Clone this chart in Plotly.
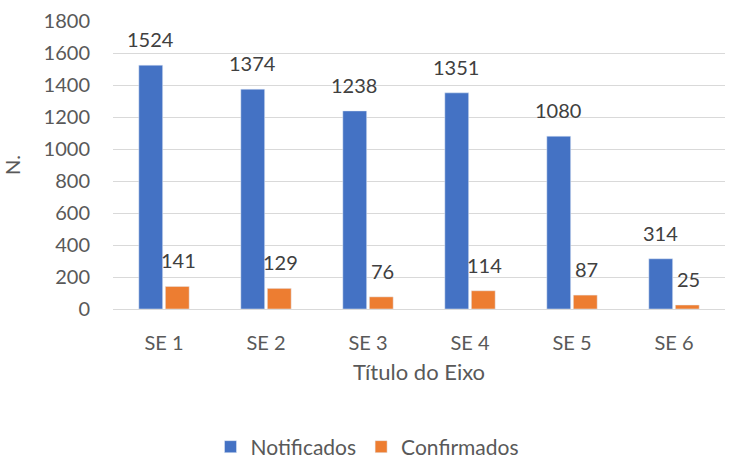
import plotly.graph_objects as go

categories = ["SE 1", "SE 2", "SE 3", "SE 4", "SE 5", "SE 6"]
notificados = [1524, 1374, 1238, 1351, 1080, 314]
confirmados = [141, 129, 76, 114, 87, 25]
y_ticks = [0, 200, 400, 600, 800, 1000, 1200, 1400, 1600, 1800]

BLUE = "#4472C4"
ORANGE = "#ED7D31"
TXT = "#595959"
FONT = "Lato"

fig = go.Figure()
fig.add_trace(go.Bar(x=categories, y=notificados, name="Notificados", marker_color=BLUE))
fig.add_trace(go.Bar(x=categories, y=confirmados, name="Confirmados", marker_color=ORANGE))

annotations = []
for c, v in zip(categories, notificados):
    annotations.append(dict(x=c, y=v, text=str(v), showarrow=False, xshift=-14, yshift=12,
                            yanchor="bottom", font=dict(family=FONT, size=20, color="#404040")))
for c, v in zip(categories, confirmados):
    annotations.append(dict(x=c, y=v, text=str(v), showarrow=False, xshift=14, yshift=12,
                            yanchor="bottom", font=dict(family=FONT, size=20, color="#404040")))

fig.update_layout(
    width=735, height=461,
    margin=dict(l=113, r=10, t=21, b=152, autoexpand=False),
    paper_bgcolor="white", plot_bgcolor="white",
    barmode="group", bargap=0.48, bargroupgap=0.1,
    font=dict(family=FONT, size=20, color=TXT),
    annotations=annotations,
    showlegend=True,
    legend=dict(orientation="h", xref="container", yref="container", x=0.5, xanchor="center",
                y=1 - 447 / 461, yanchor="middle", font=dict(family=FONT, size=21, color=TXT),
                itemwidth=30, traceorder="normal"),
    xaxis=dict(title=dict(text="Título do Eixo", font=dict(family=FONT, size=22, color=TXT), standoff=11),
               ticks="outside", ticklen=16, tickcolor="rgba(0,0,0,0)",
               tickfont=dict(family=FONT, size=20, color=TXT), showline=False),
    yaxis=dict(title=dict(text="N.", font=dict(family=FONT, size=20, color=TXT), standoff=20),
               range=[0, 1800], tickvals=y_ticks, showgrid=True, gridcolor="#D9D9D9", gridwidth=1,
               zeroline=True, zerolinecolor="#D9D9D9", zerolinewidth=1,
               ticks="outside", ticklen=18, tickcolor="rgba(0,0,0,0)",
               tickfont=dict(family=FONT, size=20, color=TXT)),
)

fig.write_html("out.html", config={"displayModeBar": False},
               post_script="document.body.style.margin='0';")
